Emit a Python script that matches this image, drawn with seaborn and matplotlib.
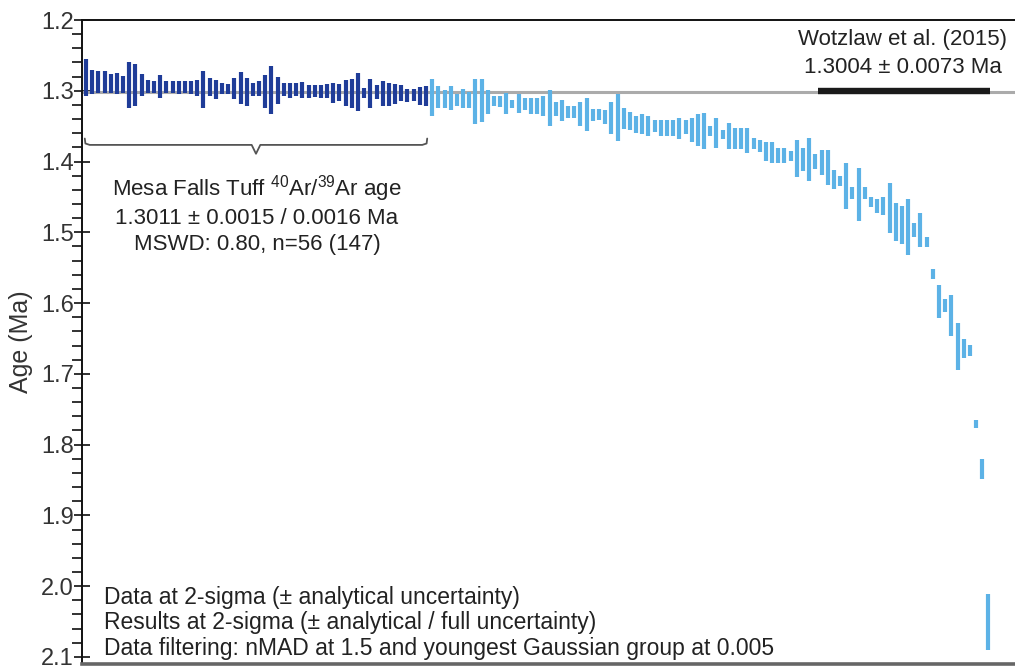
import numpy as np
import pandas as pd
import matplotlib
matplotlib.use("Agg")
import matplotlib.pyplot as plt
from matplotlib.ticker import MultipleLocator, FormatStrFormatter
import seaborn as sns

# ---- data (ages in Ma, 2-sigma low / high of each analysis) ----
dark_low = [1.2546, 1.2700, 1.2714, 1.2723, 1.2761, 1.2747, 1.2793, 1.2592, 1.2620, 1.2761,
            1.2841, 1.2855, 1.2771, 1.2864, 1.2864, 1.2864, 1.2864, 1.2855, 1.2841, 1.2714,
            1.2817, 1.2841, 1.2887, 1.2902, 1.2817, 1.2733, 1.2817, 1.2887, 1.2855, 1.2771,
            1.2653, 1.2807, 1.2887, 1.2887, 1.2887, 1.2873, 1.2920, 1.2920, 1.2920, 1.2911,
            1.2887, 1.2902, 1.2841, 1.2827, 1.2747, 1.2958, 1.2827, 1.2920, 1.2855, 1.2887,
            1.2902, 1.2920, 1.2982, 1.2982, 1.2948, 1.2934]
dark_high = [1.3075, 1.3052, 1.3028, 1.3028, 1.3028, 1.3052, 1.3028, 1.3239, 1.3215, 1.3075,
             1.3028, 1.3028, 1.3098, 1.3028, 1.3028, 1.3052, 1.3028, 1.3052, 1.3075, 1.3239,
             1.3075, 1.3122, 1.3052, 1.3052, 1.3122, 1.3193, 1.3215, 1.3075, 1.3075, 1.3239,
             1.3323, 1.3183, 1.3075, 1.3098, 1.3075, 1.3098, 1.3098, 1.3089, 1.3098, 1.3098,
             1.3169, 1.3145, 1.3215, 1.3239, 1.3286, 1.3098, 1.3239, 1.3122, 1.3215, 1.3215,
             1.3193, 1.3145, 1.3155, 1.3145, 1.3201, 1.3215]
light_low = [1.2827, 1.2934, 1.2996, 1.2934, 1.3042, 1.2968, 1.3014, 1.2827, 1.2827, 1.2996,
             1.3075, 1.3075, 1.3028, 1.3136, 1.3042, 1.3098, 1.3098, 1.3098, 1.3075, 1.2996,
             1.3155, 1.3136, 1.3215, 1.3215, 1.3155, 1.3108, 1.3263, 1.3263, 1.3277, 1.3155,
             1.3042, 1.3249, 1.3295, 1.3352, 1.3323, 1.3356, 1.3418, 1.3418, 1.3418, 1.3418,
             1.3390, 1.3418, 1.3390, 1.3333, 1.3309, 1.3496, 1.3390, 1.3558, 1.3450, 1.3530,
             1.3530, 1.3530, 1.3671, 1.3699, 1.3717, 1.3717, 1.3812, 1.3812, 1.3858, 1.3699,
             1.3812, 1.3671, 1.3896, 1.3840, 1.3840, 1.4121, 1.4200, 1.4027, 1.4364, 1.4093,
             1.4364, 1.4505, 1.4529, 1.4505, 1.4308, 1.4589, 1.4622, 1.4529, 1.4871, 1.4730,
             1.5068, 1.5513, 1.5747, 1.5949, 1.5888, 1.6287, 1.6512, 1.6591, 1.7656, 1.8200,
             2.0107]
light_high = [1.3356, 1.3239, 1.3239, 1.3271, 1.3215, 1.3249, 1.3239, 1.3464, 1.3436, 1.3323,
              1.3215, 1.3229, 1.3323, 1.3239, 1.3309, 1.3277, 1.3323, 1.3323, 1.3356, 1.3496,
              1.3356, 1.3426, 1.3380, 1.3380, 1.3496, 1.3567, 1.3426, 1.3418, 1.3464, 1.3615,
              1.3707, 1.3544, 1.3549, 1.3591, 1.3605, 1.3637, 1.3577, 1.3637, 1.3637, 1.3637,
              1.3685, 1.3605, 1.3717, 1.3778, 1.3826, 1.3637, 1.3802, 1.3685, 1.3826, 1.3826,
              1.3826, 1.3886, 1.3826, 1.3872, 1.3999, 1.4027, 1.4027, 1.4027, 1.3999, 1.4214,
              1.4129, 1.4270, 1.4107, 1.4186, 1.4326, 1.4388, 1.4340, 1.4670, 1.4529, 1.4843,
              1.4529, 1.4646, 1.4730, 1.4762, 1.5011, 1.5124, 1.5170, 1.5325, 1.5068, 1.5208,
              1.5208, 1.5654, 1.6217, 1.6122, 1.6464, 1.6942, 1.6779, 1.6746, 1.7764, 1.8490,
              2.0905]

mean_age = 1.3011          # Mesa Falls Tuff weighted mean
wotzlaw_age = 1.3004       # Wotzlaw et al. (2015)
wotzlaw_span = (119.4, 147.3)

text_wotzlaw = "Wotzlaw et al. (2015)\n1.3004 \u00b1 0.0073 Ma"
text_mesa = ("Mesa Falls Tuff $^{40}$Ar/$^{39}$Ar age\n"
             "1.3011 \u00b1 0.0015 / 0.0016 Ma\n"
             "MSWD: 0.80, n=56 (147)")
text_notes = ("Data at 2-sigma (\u00b1 analytical uncertainty)\n"
              "Results at 2-sigma (\u00b1 analytical / full uncertainty)\n"
              "Data filtering: nMAD at 1.5 and youngest Gaussian group at 0.005")

# ---- build long table ----
n_dark = len(dark_low)
lows = dark_low + light_low
highs = dark_high + light_high
idx = np.arange(1, len(lows) + 1)
group = ["accepted"] * n_dark + ["rejected"] * len(light_low)
df = pd.DataFrame({"idx": idx, "low": lows, "high": highs, "group": group})
long = df.melt(id_vars=["idx", "group"], value_vars=["low", "high"],
               var_name="end", value_name="age")

# ---- style ----
sns.set_theme(style="ticks")
plt.rcParams["font.family"] = ["Liberation Sans", "DejaVu Sans"]
plt.rcParams["mathtext.fontset"] = "custom"
plt.rcParams["mathtext.rm"] = "Liberation Sans"
plt.rcParams["mathtext.it"] = "Liberation Sans:italic"
plt.rcParams["mathtext.bf"] = "Liberation Sans:bold"

W, H = 1015, 672
fig = plt.figure(figsize=(W / 100, H / 100), dpi=100)
ax_l, ax_r, ax_t, ax_b = 82, 1015, 20, 664
ax = fig.add_axes([ax_l / W, 1 - ax_b / H, (ax_r - ax_l) / W, (ax_b - ax_t) / H])

# mean line
ax.axhline(mean_age, color="#ababab", lw=2.2, zorder=1)
# Wotzlaw reference bar
ax.plot(wotzlaw_span, [wotzlaw_age, wotzlaw_age], color="#1a1a1a", lw=4.6,
        solid_capstyle="butt", zorder=3)

palette = {"accepted": "#1f3c98", "rejected": "#5cb2e6"}
sns.lineplot(data=long, x="idx", y="age", hue="group", units="idx",
             estimator=None, palette=palette, linewidth=3.0, legend=False,
             sort=False, ax=ax, zorder=2, solid_capstyle="butt")

# bracket under accepted group
x0, x1 = 1, n_dark
xm = (x0 + x1) / 2
yb, ye, yt = 1.3765, 1.3675, 1.389
bx = [x0 - 0.2, x0 - 0.1, x0 + 0.6, xm - 0.7, xm, xm + 0.7, x1 - 0.6, x1 + 0.1, x1 + 0.2]
by = [ye, yb - 0.002, yb, yb, yt, yb, yb, yb - 0.002, ye]
ax.plot(bx, by, color="#555555", lw=1.3, zorder=2)

# axes
ax.set_xlim(0.35, 151.3)
ax.set_ylim(2.11, 1.2)
ax.set_xticks([])
ax.set_xlabel("")
ax.yaxis.set_major_locator(MultipleLocator(0.1))
ax.yaxis.set_minor_locator(MultipleLocator(0.02))
ax.yaxis.set_major_formatter(FormatStrFormatter("%.1f"))
ax.tick_params(axis="y", which="major", direction="inout", length=12, width=1.3,
               color="#222222", labelsize=17, labelcolor="#333333", pad=0)
ax.tick_params(axis="y", which="minor", direction="out", length=7, width=1.3,
               color="#222222")
ax.set_ylabel("Age (Ma)", fontsize=18, color="#333333")
ax.yaxis.set_label_coords((33 - ax_l) / (ax_r - ax_l), 0.5)

for s in ["left", "top"]:
    ax.spines[s].set_color("#111111")
    ax.spines[s].set_linewidth(1.4)
ax.spines["bottom"].set_color("#666666")
ax.spines["bottom"].set_linewidth(2.6)
ax.spines["right"].set_visible(False)

# annotations
def fx(px):
    return (px - ax_l) / (ax_r - ax_l)

def fy(py):
    return 1 - (py - ax_t) / (ax_b - ax_t)

ax.text(fx(902.5), fy(53.5), text_wotzlaw, transform=ax.transAxes, ha="center",
        va="center", fontsize=16, color="#222222", linespacing=1.4, multialignment="center")
ax.text(fx(257), fy(214), text_mesa, transform=ax.transAxes, ha="center",
        va="center", fontsize=16, color="#222222", linespacing=1.3, multialignment="center")
ax.text(fx(104), fy(623), text_notes, transform=ax.transAxes, ha="left",
        va="center", fontsize=16.5, color="#222222", linespacing=1.13)

fig.savefig("out.png", dpi=100)
